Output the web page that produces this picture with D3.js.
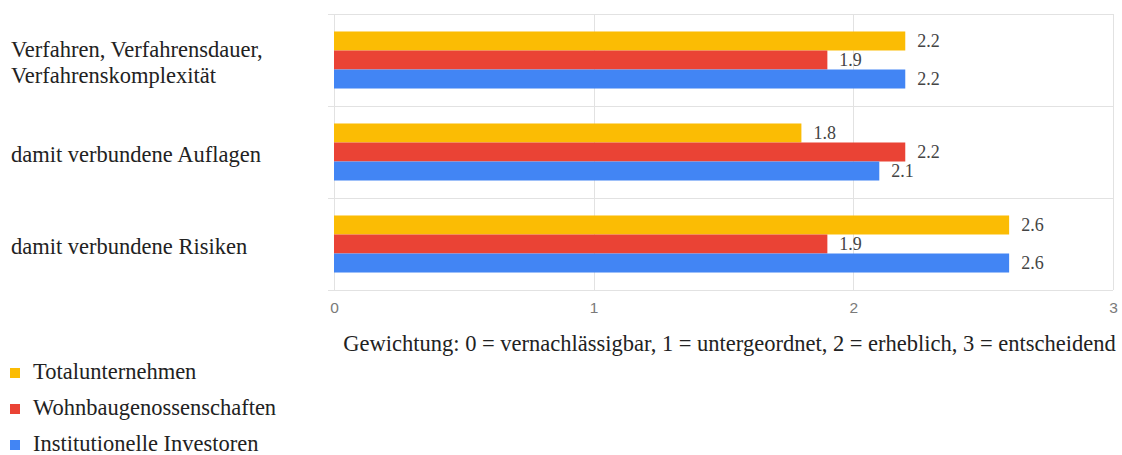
<!DOCTYPE html>
<html>
<head>
<meta charset="utf-8">
<script src="https://cdn.jsdelivr.net/npm/d3@7"></script>
<style>
  html, body { margin: 0; padding: 0; background: #fff; }
  svg { display: block; }
</style>
</head>
<body>
<svg id="chart" width="1122" height="455"></svg>
<script>
// Factors and their weighting per group of respondents
const categories = [
  ["Verfahren, Verfahrensdauer,", "Verfahrenskomplexität"],
  ["damit verbundene Auflagen"],
  ["damit verbundene Risiken"]
];
const seriesNames = ["Totalunternehmen", "Wohnbaugenossenschaften", "Institutionelle Investoren"];
const seriesColors = ["#fbbc04", "#ea4335", "#4285f4"];
const totalunternehmen = [2.2, 1.8, 2.6];
const wohnbaugenossenschaften = [1.9, 2.2, 1.9];
const institutionelleInvestoren = [2.2, 2.1, 2.6];
const xTicks = [0, 1, 2, 3];
const axisTitle = "Gewichtung: 0 = vernachlässigbar, 1 = untergeordnet, 2 = erheblich, 3 = entscheidend";

const seriesValues = [totalunternehmen, wohnbaugenossenschaften, institutionelleInvestoren];

const svg = d3.select("#chart");
const serif = "'Liberation Serif', 'Times New Roman', serif";
const sans = "'Liberation Sans', Arial, sans-serif";
const textSize = 22.5;

const plot = { left: 334, right: 1113, top: 14, bottom: 290 };

const x = d3.scaleLinear().domain([0, 3]).range([plot.left, plot.right]);
const y0 = d3.scaleBand().domain(d3.range(categories.length)).range([plot.top, plot.bottom]);
const y1 = d3.scaleBand().domain(d3.range(seriesNames.length))
  .range([0, y0.bandwidth()]).paddingOuter(0.92).paddingInner(0);

// Grid: vertical lines at ticks, horizontal separators between groups
const grid = svg.append("g").attr("stroke", "#e2e2e2").attr("stroke-width", 1);
grid.selectAll("line.v").data(xTicks).join("line")
  .attr("x1", d => Math.round(x(d)) + 0.5).attr("x2", d => Math.round(x(d)) + 0.5)
  .attr("y1", plot.top).attr("y2", plot.bottom);
const seps = d3.range(categories.length + 1).map(i => plot.top + i * y0.step());
grid.selectAll("line.h").data(seps).join("line")
  .attr("x1", plot.left - 6).attr("x2", plot.right)
  .attr("y1", d => Math.round(d) + 0.5).attr("y2", d => Math.round(d) + 0.5);

// Bars with value labels
const groups = svg.append("g").selectAll("g").data(categories).join("g")
  .attr("transform", (d, i) => `translate(0,${y0(i)})`);

groups.each(function (cat, ci) {
  const g = d3.select(this);
  seriesValues.forEach((vals, si) => {
    g.append("rect")
      .attr("x", x(0))
      .attr("y", y1(si))
      .attr("width", x(vals[ci]) - x(0))
      .attr("height", y1.bandwidth())
      .attr("fill", seriesColors[si]);
    g.append("text")
      .attr("x", x(vals[ci]) + 12)
      .attr("y", y1(si) + y1.bandwidth() / 2)
      .attr("dy", "0.35em")
      .attr("font-family", serif)
      .attr("font-size", 18)
      .attr("fill", "#444")
      .text(d3.format(".1f")(vals[ci]));
  });
});

// Category labels (baseline placed relative to the group centre)
svg.append("g").selectAll("text").data(categories).join("text")
  .attr("font-family", serif).attr("font-size", textSize).attr("fill", "#222")
  .each(function (lines, i) {
    const base = y0(i) + y0.bandwidth() / 2 + 10;
    const lh = 26.5;
    const t = d3.select(this);
    lines.forEach((ln, k) => {
      t.append("tspan")
        .attr("x", 11)
        .attr("y", base + (k - (lines.length - 1) / 2) * lh)
        .text(ln);
    });
  });

// X axis tick labels
const xAxis = d3.axisBottom(x).tickValues(xTicks).tickSize(0).tickPadding(0).tickFormat(d3.format("d"));
const ax = svg.append("g").attr("transform", `translate(0,${plot.bottom + 18})`).call(xAxis);
ax.select(".domain").remove();
ax.selectAll("text")
  .attr("font-family", sans).attr("font-size", 15.5).attr("fill", "#7a7a7a")
  .attr("dy", "0.35em").attr("y", 0);

// Axis title
svg.append("text")
  .attr("x", 729.5)
  .attr("y", 351)
  .attr("text-anchor", "middle")
  .attr("font-family", serif).attr("font-size", textSize).attr("fill", "#222")
  .text(axisTitle);

// Legend
const legend = svg.append("g").selectAll("g").data(seriesNames).join("g")
  .attr("transform", (d, i) => `translate(10,${380 + i * 36})`);
legend.append("rect").attr("x", 0).attr("y", -12).attr("width", 10).attr("height", 10)
  .attr("fill", (d, i) => seriesColors[i]);
legend.append("text").attr("x", 23).attr("y", -1)
  .attr("font-family", serif).attr("font-size", textSize).attr("fill", "#222")
  .text(d => d);
</script>
</body>
</html>
